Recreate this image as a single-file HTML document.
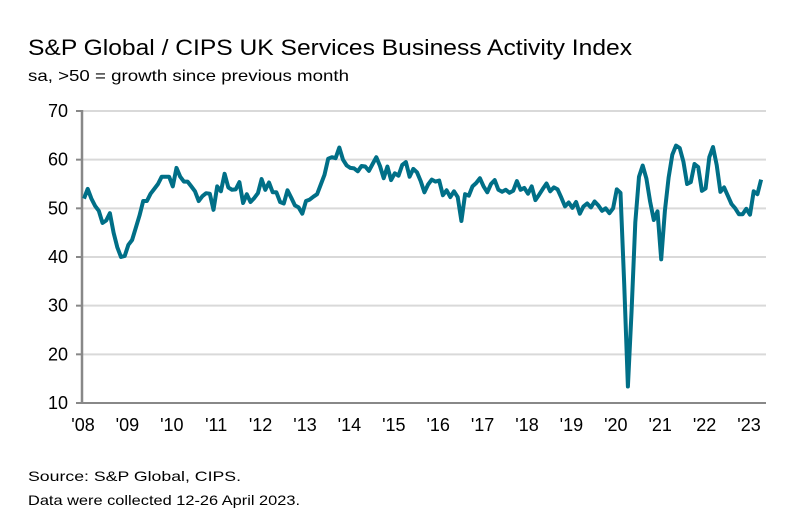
<!DOCTYPE html>
<html><head><meta charset="utf-8"><style>
body{margin:0;background:#fff;font-family:"Liberation Sans",sans-serif;}
</style></head><body>
<svg width="791" height="519" xmlns="http://www.w3.org/2000/svg" font-family="Liberation Sans, sans-serif">
<text x="28" y="55" font-size="22" textLength="604" lengthAdjust="spacingAndGlyphs" fill="#000">S&amp;P Global / CIPS UK Services Business Activity Index</text>
<text x="28" y="81" font-size="16" textLength="321" lengthAdjust="spacingAndGlyphs" fill="#000">sa, &gt;50 = growth since previous month</text>
<g id="grid"></g>
<g id="yt"></g>
<g id="xt"></g>
<path id="line" fill="none" stroke="#006f87" stroke-width="4" stroke-linejoin="round"/>
<text x="28" y="481" font-size="14" textLength="213" lengthAdjust="spacingAndGlyphs">Source: S&amp;P Global, CIPS.</text>
<text x="28" y="505" font-size="14" textLength="272" lengthAdjust="spacingAndGlyphs">Data were collected 12-26 April 2023.</text>
</svg>
<script>
const yTicks=[10,20,30,40,50,60,70];
const xLabels=["'08","'09","'10","'11","'12","'13","'14","'15","'16","'17","'18","'19","'20","'21","'22","'23"];
const values=[
52,54,52,50.5,49.5,47,47.5,49,45,42,40,40.2,
42.5,43.5,46,48.5,51.5,51.5,53,54,55,56.5,56.5,56.5,
54.5,58.3,56.5,55.5,55.5,54.5,53.5,51.5,52.5,53.1,53,49.7,
54.5,53.5,57.1,54.3,53.8,53.9,55.4,51.1,52.9,51.3,52.1,53.1,
56,53.8,55.3,53.3,53.3,51.3,51,53.7,52.2,50.6,50.2,48.9,
51.5,51.8,52.4,52.9,54.9,56.9,60.2,60.5,60.3,62.5,60,58.8,
58.3,58.2,57.6,58.7,58.6,57.7,59.1,60.5,58.7,56.2,58.6,55.8,
57.2,56.7,58.9,59.5,56.5,58.1,57.4,55.6,53.3,54.9,55.9,55.5,
55.7,52.7,53.7,52.3,53.5,52.3,47.4,52.9,52.6,54.5,55.2,56.2,
54.5,53.3,55,55.8,53.8,53.4,53.8,53.2,53.6,55.6,53.8,54.2,
53,54.5,51.7,52.8,54,55.1,53.5,54.3,53.9,52.2,50.4,51.2,
50.1,51.3,48.9,50.4,51,50.2,51.4,50.6,49.5,50,49,50,
53.9,53.2,34.5,13.4,29,47.1,56.5,58.8,56.1,51.4,47.6,49.4,
39.5,49.5,56.3,61,62.9,62.4,59.6,55,55.4,59.1,58.5,53.6,
54.1,60.5,62.6,58.9,53.4,54.3,52.6,50.9,50,48.8,48.8,49.9,
48.7,53.5,52.9,55.9];
const NS="http://www.w3.org/2000/svg";
const x0=84,mw=3.7,xl=82,xr=766;
const y=v=>403-(v-10)*(292/60);
const x=i=>x0+i*mw;
const grid=document.getElementById('grid'),yt=document.getElementById('yt'),xt=document.getElementById('xt');
function mk(t,a,p){const e=document.createElementNS(NS,t);for(const k in a)e.setAttribute(k,a[k]);p.appendChild(e);return e;}
yTicks.forEach(v=>{
 const l=mk('line',{x1:xl,x2:xr,y1:y(v),y2:y(v),stroke:v===10?'#888':'#d9d9d9','stroke-width':2},grid);
 
 
 const tk=mk('line',{x1:xl-6,x2:xl,y1:y(v),y2:y(v),stroke:'#888','stroke-width':2},yt);
 
 
 const t=mk('text',{x:xl-14,y:y(v)+6,'font-size':18,'text-anchor':'end'},yt);
 t.textContent=v;
 
 
});
const ax=mk('line',{x1:xl,x2:xl,y1:y(70)-1,y2:y(10)+1,stroke:'#888','stroke-width':2.5},yt);


xLabels.forEach((s,i)=>{
 const t=mk('text',{x:x(i*12)-1,y:431,'font-size':18,'text-anchor':'middle'},xt);
 t.textContent=s;
 
 
});
document.getElementById('line').setAttribute('d',values.map((v,i)=>(i?'L':'M')+x(i).toFixed(1)+' '+y(v).toFixed(1)).join(' '));
</script>
</body></html>
